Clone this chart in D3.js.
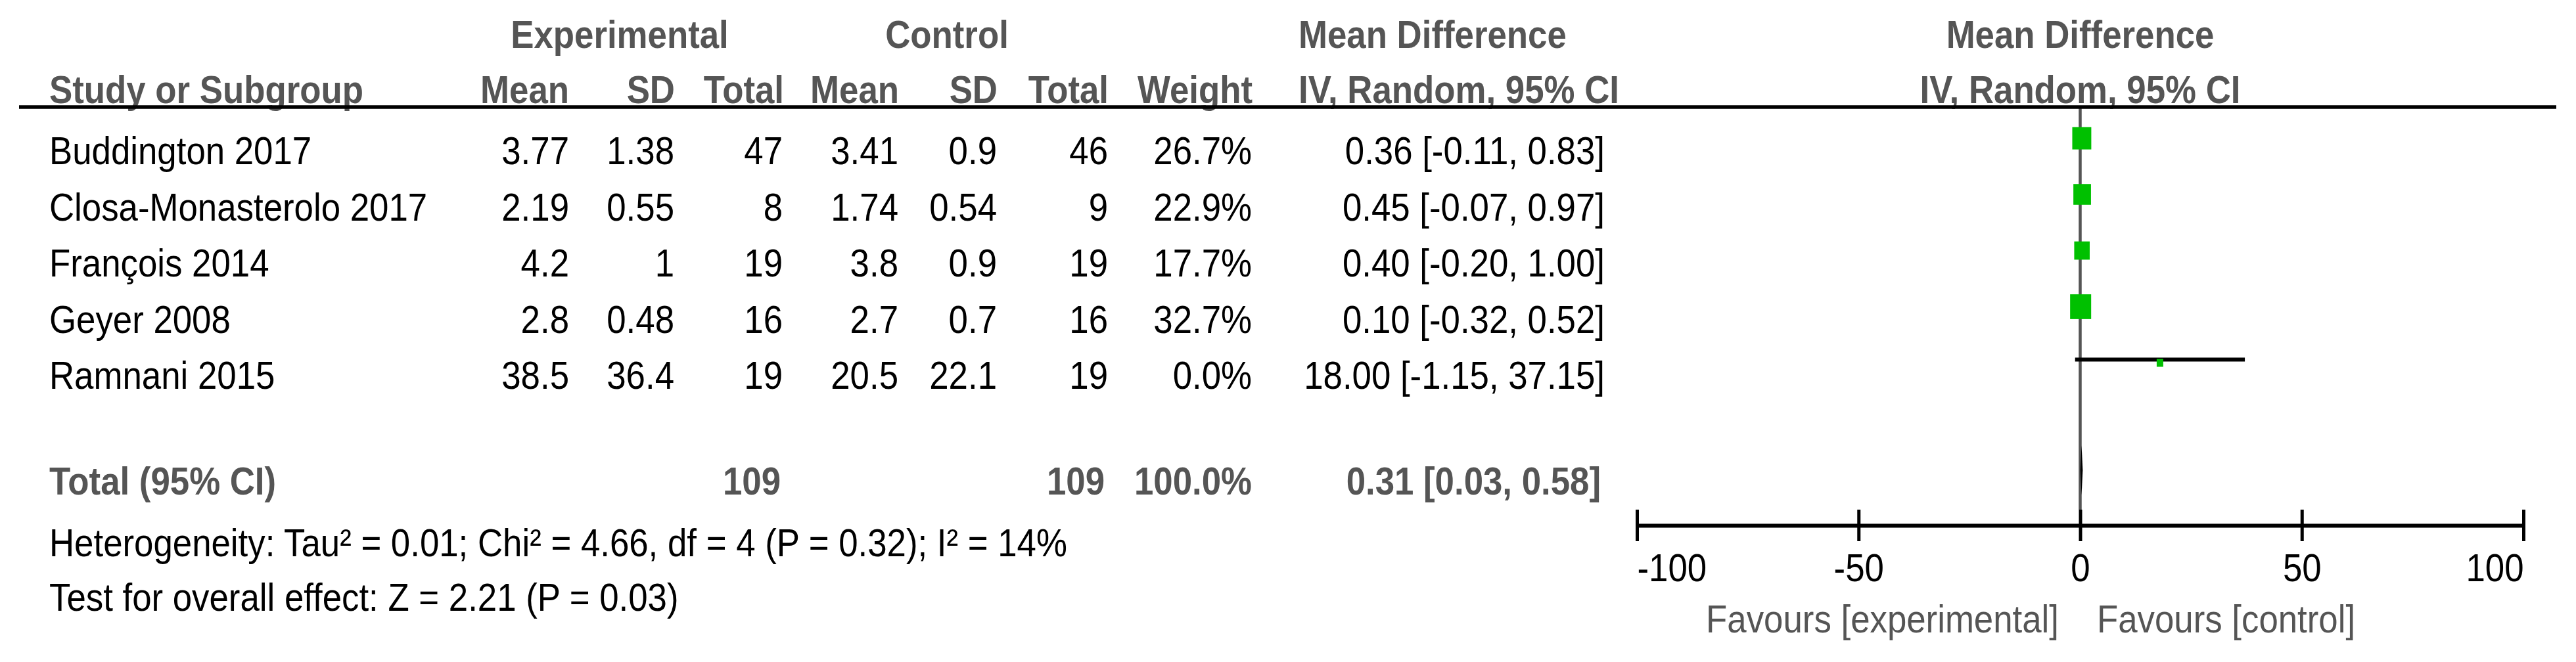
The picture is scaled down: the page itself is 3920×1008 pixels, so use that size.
<!DOCTYPE html>
<html>
<head>
<meta charset="utf-8">
<script src="https://cdn.jsdelivr.net/npm/d3@7"></script>
<style>
  body { margin: 0; background: #fff; }
  text { font-family: "Liberation Sans", Arial, sans-serif; }
</style>
</head>
<body>
<div id="forest"></div>
<script>
// study data
var studies = ["Buddington 2017", "Closa-Monasterolo 2017", "François 2014", "Geyer 2008", "Ramnani 2015"];
var expMean = [3.77, 2.19, 4.2, 2.8, 38.5];
var expSD = [1.38, 0.55, 1, 0.48, 36.4];
var expTotal = [47, 8, 19, 16, 19];
var ctrlMean = [3.41, 1.74, 3.8, 2.7, 20.5];
var ctrlSD = [0.9, 0.54, 0.9, 0.7, 22.1];
var ctrlTotal = [46, 9, 19, 16, 19];
var weights = [26.7, 22.9, 17.7, 32.7, 0.0];
var md = [0.36, 0.45, 0.40, 0.10, 18.00];
var mdLow = [-0.11, -0.07, -0.20, -0.32, -1.15];
var mdHigh = [0.83, 0.97, 1.00, 0.52, 37.15];

// pooled result
var pooled = [0.31, 0.03, 0.58];
var pooledTotals = [109, 109];
var pooledWeight = 100.0;
var heterogeneity = [0.01, 4.66, 4, 0.32, 14]; // Tau², Chi², df, P, I²
var overall = [2.21, 0.03]; // Z, P

var axisTicks = [-100, -50, 0, 50, 100];

var svgWidth = 3920;
var svgHeight = 1008;

var svg = d3.select("#forest")
  .append("svg")
  .attr("width", svgWidth)
  .attr("height", svgHeight);

var fontSize = 60;
var squeeze = 0.88;   // the original text is a bit narrower than Arial
var grey = "#555555";
var green = "#00c000";

function label(x, y, str, anchor, bold, color) {
  return svg.append("text")
    .attr("transform", `translate(${x}, ${y}) scale(${squeeze}, 1)`)
    .attr("text-anchor", anchor || "start")
    .attr("font-size", fontSize)
    .attr("font-weight", bold ? "bold" : "normal")
    .attr("fill", color || "#000")
    .text(str);
}

// column right edges
var col = {
  study: 75, meanE: 866, sdE: 1026, totE: 1191,
  meanC: 1367, sdC: 1517, totC: 1686, weight: 1905, ci: 2442
};

// headers
label(943, 73, "Experimental", "middle", true, grey);
label(1441, 73, "Control", "middle", true, grey);
label(1976, 73, "Mean Difference", "start", true, grey);
label(col.study, 157, "Study or Subgroup", "start", true, grey);
label(col.meanE, 157, "Mean", "end", true, grey);
label(col.sdE + 1, 157, "SD", "end", true, grey);
label(col.totE + 2, 157, "Total", "end", true, grey);
label(col.meanC + 1, 157, "Mean", "end", true, grey);
label(col.sdC + 1, 157, "SD", "end", true, grey);
label(col.totC + 1, 157, "Total", "end", true, grey);
label(col.weight + 1, 157, "Weight", "end", true, grey);
label(1976, 157, "IV, Random, 95% CI", "start", true, grey);

// forest plot scales
var x = d3.scaleLinear().domain([-100, 100]).range([2491, 3840]);
var rowY = d3.scaleLinear().domain([0, 1]).range([250, 335.5]);
var sqW = d3.scaleSqrt().domain([0, 100]).range([0, 56]);
var sqH = d3.scaleSqrt().domain([0, 100]).range([0, 66]);

label(x(0), 73, "Mean Difference", "middle", true, grey);
label(x(0), 157, "IV, Random, 95% CI", "middle", true, grey);

// line of no effect
svg.append("line")
  .attr("x1", x(0)).attr("x2", x(0))
  .attr("y1", 163).attr("y2", 776)
  .attr("stroke", grey)
  .attr("stroke-width", 4.5);

// header rule
svg.append("line")
  .attr("x1", 29).attr("x2", 3890)
  .attr("y1", 163).attr("y2", 163)
  .attr("stroke", "#000")
  .attr("stroke-width", 5.5);

// study rows
studies.forEach(function(s, i) {
  var y = rowY(i);
  label(col.study, y, s, "start");
  label(col.meanE, y, String(expMean[i]), "end");
  label(col.sdE, y, String(expSD[i]), "end");
  label(col.totE, y, String(expTotal[i]), "end");
  label(col.meanC, y, String(ctrlMean[i]), "end");
  label(col.sdC, y, String(ctrlSD[i]), "end");
  label(col.totC, y, String(ctrlTotal[i]), "end");
  label(col.weight, y, weights[i].toFixed(1) + "%", "end");
  label(col.ci, y, `${md[i].toFixed(2)} [${mdLow[i].toFixed(2)}, ${mdHigh[i].toFixed(2)}]`, "end");
});

var marks = svg.selectAll("g.study")
  .data(studies)
  .enter()
  .append("g")
  .attr("class", "study")
  .attr("transform", (d, i) => `translate(0, ${rowY(i) - 39.5})`);

marks.append("line")
  .attr("x1", (d, i) => x(mdLow[i]))
  .attr("x2", (d, i) => x(mdHigh[i]))
  .attr("y1", -5).attr("y2", -5)
  .attr("stroke", "#000")
  .attr("stroke-width", 6);

marks.append("rect")
  .attr("x", (d, i) => x(md[i]) - Math.max(10, sqW(weights[i])) / 2)
  .attr("y", (d, i) => -Math.max(12, sqH(weights[i])) / 2)
  .attr("width", (d, i) => Math.max(10, sqW(weights[i])))
  .attr("height", (d, i) => Math.max(12, sqH(weights[i])))
  .attr("fill", green);

// total row
var totalY = 753;
label(col.study, totalY, "Total (95% CI)", "start", true, grey);
label(col.totE - 3, totalY, String(pooledTotals[0]), "end", true, grey);
label(col.totC - 5, totalY, String(pooledTotals[1]), "end", true, grey);
label(col.weight, totalY, pooledWeight.toFixed(1) + "%", "end", true, grey);
label(col.ci - 6, totalY, `${pooled[0].toFixed(2)} [${pooled[1].toFixed(2)}, ${pooled[2].toFixed(2)}]`, "end", true, grey);

var dy = totalY - 37;
svg.append("polygon")
  .attr("points", [
    [x(pooled[1]), dy], [x(pooled[0]), dy - 38],
    [x(pooled[2]), dy], [x(pooled[0]), dy + 38]
  ].map(p => p.join(",")).join(" "))
  .attr("fill", "#000");

label(col.study, 847, `Heterogeneity: Tau² = ${heterogeneity[0].toFixed(2)}; Chi² = ${heterogeneity[1].toFixed(2)}, df = ${heterogeneity[2]} (P = ${heterogeneity[3].toFixed(2)}); I² = ${heterogeneity[4]}%`, "start");
label(col.study, 930, `Test for overall effect: Z = ${overall[0].toFixed(2)} (P = ${overall[1].toFixed(2)})`, "start");

// axis
var axisG = svg.append("g")
  .attr("transform", "translate(0, 800)")
  .call(d3.axisBottom(x).tickValues(axisTicks).tickSizeOuter(0).tickFormat(d3.format("d")))
  .attr("font-family", null)
  .attr("font-size", null)
  .attr("color", "#000");

axisG.select(".domain").attr("stroke-width", 6);
axisG.selectAll(".tick line").attr("y1", -24).attr("y2", 24).attr("stroke-width", 5);
axisG.selectAll(".tick text")
  .attr("y", null).attr("dy", null)
  .attr("transform", `translate(0, 85) scale(${squeeze}, 1)`)
  .attr("font-size", fontSize)
  .attr("text-anchor", (d, i) => i === 0 ? "start" : (i === axisTicks.length - 1 ? "end" : "middle"))
  .text(d => d < 0 ? "-" + Math.abs(d) : String(d));

label(3133, 963, "Favours [experimental]", "end", false, grey);
label(3191, 963, "Favours [control]", "start", false, grey);
</script>
</body>
</html>
